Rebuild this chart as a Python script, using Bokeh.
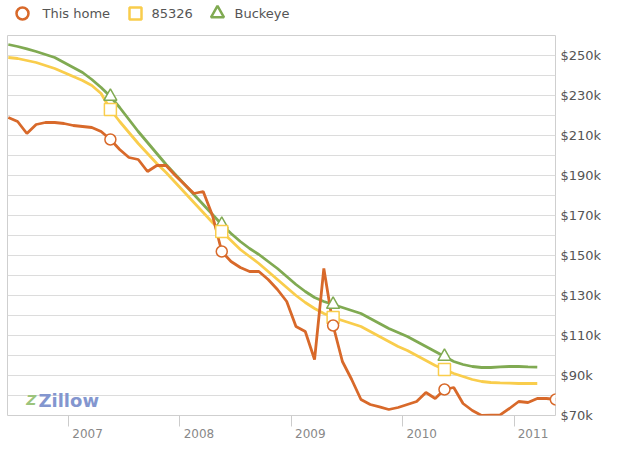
from bokeh.plotting import figure
from bokeh.models import Range1d, FixedTicker, PrintfTickFormatter, Label, LinearAxis
from bokeh.layouts import column
from bokeh.core.properties import value
from bokeh.embed import file_html
from bokeh.resources import INLINE

START_YEAR = 2006 + 5.5 / 12
this_home = [219, 217, 211, 215.5, 216.5, 216.5, 216, 215, 214.5, 214, 212, 208,
             203, 199, 198, 192, 195, 195, 190, 185.5, 181, 182, 170, 152,
             147, 144, 142, 142, 138, 133, 127, 114.5, 112, 98, 143.5, 115,
             97, 88, 78, 75.5, 74.3, 73, 74, 75.5, 77, 81.5, 78.5, 83,
             84, 76, 72.5, 70, 70.2, 70.3, 73.5, 77, 76.5, 78.5, 78.5, 78]
zip_85326 = [249, 248.5, 247.5, 246.5, 245, 243.5, 241.5, 239.5, 237.5, 235, 231, 223,
             217, 211.5, 206, 201, 196, 191.5, 186.5, 181.5, 176.5, 171.5, 166.5, 162,
             157.5, 153, 149.5, 146, 142, 138, 134, 130, 126.5, 123.5, 121, 119,
             117.5, 116, 114.5, 112, 109.5, 107, 104.5, 102.5, 100, 97.5, 95, 93,
             91, 89.5, 88, 87, 86.5, 86.3, 86.2, 86, 86, 86]
buckeye = [255.5, 254.5, 253.3, 252, 250.5, 249, 246.5, 244, 241.5, 238, 234, 229.5,
           224, 218, 212, 206.5, 201, 195.5, 190.5, 185.5, 180.5, 175.5, 170.5, 165.5,
           161, 157, 153.5, 150.5, 147, 143.5, 139.5, 135.5, 132, 129, 127, 125.5,
           124, 122.5, 121, 118.5, 116, 113.5, 111.5, 109.5, 107, 104.5, 102, 99.5,
           97, 95.5, 94.5, 94, 94, 94.3, 94.5, 94.5, 94.3, 94.2]
marker_months = [11, 23, 35, 47, 59]
series_names = ["This home", "85326", "Buckeye"]
years = [2007, 2008, 2009, 2010, 2011]
y_label_ticks = [70, 90, 110, 130, 150, 170, 190, 210, 230, 250]
y_grid_ticks = list(range(70, 261, 10))

ORANGE = "#d8692a"
YELLOW = "#f9cd4c"
GREEN = "#80aa52"
FONT = "DejaVu Sans"
TOTAL_W = 601
LEG_H = 28
FRAME_W, FRAME_H = 548, 380


def xs(n):
    return [START_YEAR + i / 12 for i in range(n)]


# ---------- legend strip (separate small figure on top) ----------
leg = figure(frame_width=TOTAL_W, frame_height=LEG_H, output_backend="svg",
             toolbar_location=None, x_range=Range1d(0, TOTAL_W), y_range=Range1d(0, LEG_H),
             min_border=0, min_border_left=0, min_border_right=0, min_border_top=0,
             min_border_bottom=0)
leg.axis.visible = False
leg.grid.visible = False
leg.outline_line_color = None
legend_markers = ["circle", "square", "triangle"]
legend_colors = [ORANGE, YELLOW, GREEN]
legend_marker_x = [15, 128, 210]
legend_text_x = [35, 144, 227]
legend_mid = [LEG_H / 2 + 1] * 3
leg.scatter(legend_marker_x, legend_mid, marker=legend_markers, size=[12, 12, 13],
            fill_color="white", line_color=legend_colors, line_width=2.5)
leg.text(legend_text_x, legend_mid, text=series_names, text_font=value(FONT),
         text_font_size="13px", text_color="#555555", text_baseline="middle",
         text_align="left")

# ---------- main chart ----------
p = figure(frame_width=FRAME_W, frame_height=FRAME_H, output_backend="svg",
           toolbar_location=None,
           x_range=Range1d(2006.451, 2011.372), y_range=Range1d(70, 260),
           y_axis_location="right")
p.min_border_left = 7
p.min_border_top = 7
p.min_border_bottom = 4
p.min_border_right = 2
p.outline_line_color = "#cfcfcf"
p.xgrid.visible = False
p.ygrid.ticker = FixedTicker(ticks=y_grid_ticks)
p.ygrid.grid_line_color = "#dcdcdc"

ya = p.yaxis[0]
ya.ticker = FixedTicker(ticks=y_label_ticks)
ya.formatter = PrintfTickFormatter(format="$%dk")
ya.axis_line_color = None
ya.major_tick_line_color = None
ya.major_tick_out = 0
ya.minor_tick_line_color = None
ya.minor_tick_out = 0
ya.major_label_standoff = 5
ya.major_label_text_font = FONT
ya.major_label_text_font_size = "13px"
ya.major_label_text_color = "#555555"

# year tick marks (no labels)
xa = p.xaxis[0]
xa.ticker = FixedTicker(ticks=years)
xa.axis_line_color = None
xa.major_tick_out = 11
xa.major_tick_in = 0
xa.major_tick_line_color = "#cccccc"
xa.minor_tick_line_color = None
xa.minor_tick_out = 0
xa.major_label_standoff = 0
xa.major_label_text_font_size = "1px"
xa.major_label_text_alpha = 0

# year labels, set a little to the right of their tick marks
xb = LinearAxis(ticker=FixedTicker(ticks=[y + 0.17 for y in years]),
                formatter=PrintfTickFormatter(format="%d"))
xb.axis_line_color = None
xb.major_tick_line_color = None
xb.major_tick_out = 0
xb.major_tick_in = 0
xb.minor_tick_line_color = None
xb.minor_tick_out = 0
xb.major_label_standoff = 2
xb.major_label_text_font = FONT
xb.major_label_text_font_size = "12px"
xb.major_label_text_color = "#888888"
p.add_layout(xb, "below")

p.line(xs(len(buckeye)), buckeye, line_color=GREEN, line_width=2.8)
p.line(xs(len(zip_85326)), zip_85326, line_color=YELLOW, line_width=2.8)
p.line(xs(len(this_home)), this_home, line_color=ORANGE, line_width=2.8)

allx = xs(60)
p.scatter([allx[i] for i in marker_months[:4]], [buckeye[i] for i in marker_months[:4]],
          marker="triangle", size=13, fill_color="white", line_color=GREEN, line_width=1.5)
p.scatter([allx[i] for i in marker_months[:4]], [zip_85326[i] for i in marker_months[:4]],
          marker="square", size=12, fill_color="white", line_color=YELLOW, line_width=1.5)
p.scatter([allx[i] for i in marker_months], [this_home[i] for i in marker_months],
          marker="circle", size=11, fill_color="white", line_color=ORANGE, line_width=1.5)

# Zillow logo
p.add_layout(Label(x=2006.666, y=77.6, text="Z", text_align="center", text_baseline="middle",
                   text_font=FONT, text_font_size="14px", text_font_style="bold italic",
                   text_color="#9cc47c"))
p.add_layout(Label(x=2006.729, y=77.6, text="Zillow", text_align="left", text_baseline="middle",
                   text_font=FONT, text_font_size="18px", text_font_style="bold",
                   text_color="#8396cf"))

layout = column(leg, p, spacing=0)
open("out.html", "w").write(file_html(layout, INLINE))
